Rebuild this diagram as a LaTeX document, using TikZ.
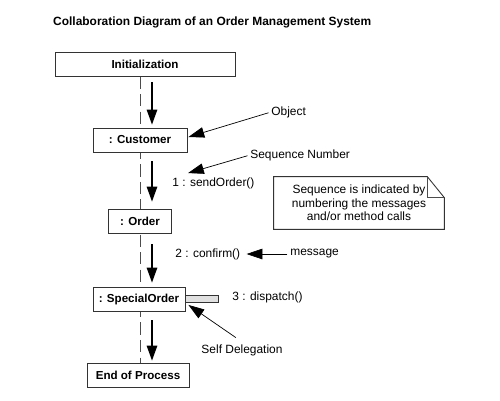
\documentclass[tikz,border=0pt]{standalone}
\usepackage{fontspec}
\setmainfont{Liberation Sans}
\usetikzlibrary{arrows.meta,positioning,calc,backgrounds}

\begin{document}
\begin{tikzpicture}[x=0.02cm, y=-0.02cm,
        obj/.style={draw=black!80, line width=0.5pt, fill=white,
          minimum height=0.48cm, inner sep=0pt,
          font=\fontsize{6.6}{8}\selectfont\bfseries},
        lbl/.style={font=\fontsize{6.8}{7.6}\selectfont, inner sep=0pt},
        msg/.style={-{Triangle[length=8.5pt,width=6pt]}, line width=0.6pt},
        ptr/.style={-{Triangle[length=9pt,width=6pt]}, line width=0.4pt, shorten <=1.5pt},
        life/.style={draw=black!70, line width=0.5pt, dash pattern=on 7pt off 3pt}
      ]
        \useasboundingbox (0,0) rectangle (500,400);

        % title
        \node[font=\fontsize{6.8}{8}\selectfont\bfseries, anchor=west] (title) at (47,22)
          {Collaboration Diagram of an Order Management System};

        % objects
        \node[obj, minimum width=3.6cm] (init) at (145,64) {Initialization};
        \node[obj, minimum width=1.88cm] (cust) at (140,140) {: Customer};
        \node[obj, minimum width=1.26cm] (ord) at (140,221) {: Order};
        \node[obj, minimum width=1.84cm] (spec) at (139,299) {: SpecialOrder};
        \node[obj, minimum width=2.04cm] (endp) at (138,375) {End of Process};

        % self delegation bar
        \node[draw=black!80, line width=0.5pt, fill=black!12, inner sep=0pt,
          minimum width=0.66cm, minimum height=0.14cm, anchor=west] (self) at (spec.east) {};

        % lifeline
        \begin{scope}[on background layer]
          \draw[life] (init.south -| cust.center) -- (endp.north -| cust.center);
        \end{scope}

        % messages
        \draw[msg] ($(init.south -| cust.center)+(12,6)$) -- ($(cust.north)+(12,-3)$);
        \draw[msg] ($(cust.south)+(12,9)$) -- ($(ord.north)+(12,-7)$);
        \draw[msg] ($(ord.south)+(12,11)$) -- ($(spec.north)+(13,-4)$);
        \draw[msg] ($(spec.south)+(13,9)$) -- ($(endp.north)+(14,-2)$);

        \node[lbl, anchor=west] (m1) at (172,183) {1 : sendOrder()};
        \node[lbl, anchor=west] (m2) at (175,254) {2 : confirm()};
        \node[lbl, anchor=west] (m3) at (232,297) {3 : dispatch()};

        % annotations
        \node[lbl, anchor=west] (objlbl) at (271,112) {Object};
        \node[lbl, anchor=west] (seqlbl) at (250,155) {Sequence Number};
        \node[lbl, anchor=west] (msglbl) at (290,254) {message};
        \node[lbl] (selflbl) at (242,350) {Self Delegation};

        \draw[ptr] (objlbl.west) -- ($(cust.east)+(1,-3)$);
        \draw[ptr] (seqlbl.west) -- ($(m1.north west)+(16,-4)$);
        \draw[ptr] (msglbl.west) -- ($(m2.east)+(6,0)$);
        \draw[ptr] ($(selflbl.north)+(-4,-5)$) -- ($(self.south west)+(3,2)$);

        % note
        \node[lbl, align=center, minimum width=3.4cm, minimum height=1.04cm] (note) at (359,203)
          {Sequence is indicated by\\numbering the messages\\and/or method calls};
        \draw[draw=black!80, line width=0.5pt] (note.north west) -- ($(note.north east)+(-17,0)$)
          -- ($(note.north east)+(0,21)$) -- (note.south east) -- (note.south west) -- cycle;
        \draw[draw=black!70, line width=0.5pt] ($(note.north east)+(-17,0)$)
          -- ($(note.north east)+(-17,21)$) -- ($(note.north east)+(0,21)$);
      \end{tikzpicture}
\end{document}
